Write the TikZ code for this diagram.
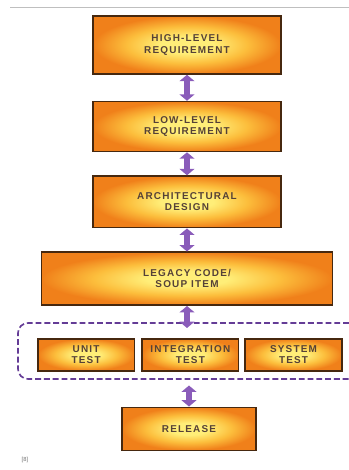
\documentclass[tikz,border=0pt]{standalone}
\usepackage{fontspec}
\setmainfont{Liberation Sans}
\usetikzlibrary{positioning,arrows.meta}
\definecolor{boxedge}{RGB}{70,40,15}
\definecolor{boxin}{RGB}{255,238,120}
\definecolor{boxmid}{RGB}{252,190,60}
\definecolor{boxout}{RGB}{240,128,26}
\definecolor{boxtext}{RGB}{85,65,55}
\definecolor{arrowc}{RGB}{138,92,186}
\definecolor{groupc}{RGB}{100,60,150}
\pgfdeclareradialshading{stageglow}{\pgfpoint{0bp}{0bp}}{%
  color(0bp)=(boxin); color(7bp)=(boxin); color(16bp)=(boxmid); color(25bp)=(boxout); color(50bp)=(boxout)}

\begin{document}
\begin{tikzpicture}[font={\fontsize{8.5}{9.5}\selectfont\bfseries\addfontfeature{LetterSpace=12}},
  stage/.style={draw=boxedge, line width=1.3pt, shading=stageglow,
    align=center, text=boxtext, inner sep=0pt, minimum width=5.64cm, minimum height=1.55cm},
  testbox/.style={stage, minimum width=2.9cm, minimum height=0.96cm},
  link/.style={arrowc, line width=0.18cm, {Triangle[width=0.44cm,length=0.19cm]}-{Triangle[width=0.44cm,length=0.19cm]}},
  group/.style={groupc, line width=1.4pt, dash pattern=on 5pt off 2.5pt, rounded corners=0.3cm}]
\useasboundingbox (0,0) rectangle (10.47,-14.1);
\draw[black!25, line width=0.8pt] (0.3,-0.21) -- (10.47,-0.21);

\node[stage, minimum height=1.74cm] (hlr) at (5.61,-1.35) {HIGH-LEVEL\\REQUIREMENT};
\node[stage, below=0.78cm of hlr, minimum height=1.5cm] (llr) {LOW-LEVEL\\REQUIREMENT};
\node[stage, below=0.69cm of llr] (arch) {ARCHITECTURAL\\DESIGN};
\node[stage, below=0.69cm of arch, minimum width=8.73cm, minimum height=1.59cm] (legacy) {LEGACY CODE/\\SOUP ITEM};
\node[testbox, below=0.96cm of legacy, xshift=0.1cm] (integ) {INTEGRATION\\TEST};
\node[testbox, left=0.18cm of integ] (unit) {UNIT\\TEST};
\node[testbox, right=0.15cm of integ] (system) {SYSTEM\\TEST};
\node[stage, below=1.05cm of integ, xshift=-0.04cm, minimum width=4.02cm, minimum height=1.29cm] (release) {RELEASE};
\coordinate[below=0.66cm of legacy] (gtop);
\coordinate[above=0.63cm of release] (gbot);

% test group
\draw[group] (10.47,-9.69) -- (0.54,-9.69) -- (0.54,-11.37) -- (10.47,-11.37);

\draw[link] (hlr) -- (llr);
\draw[link] (llr) -- (arch);
\draw[link] (arch) -- (legacy);
\draw[link] (legacy) -- (gtop);
\draw[link] (gbot) -- (release);

\node[font=\tiny, text=black!55, inner sep=0pt] (ref) at (0.75,-13.8) {[8]};
\end{tikzpicture}
\end{document}
